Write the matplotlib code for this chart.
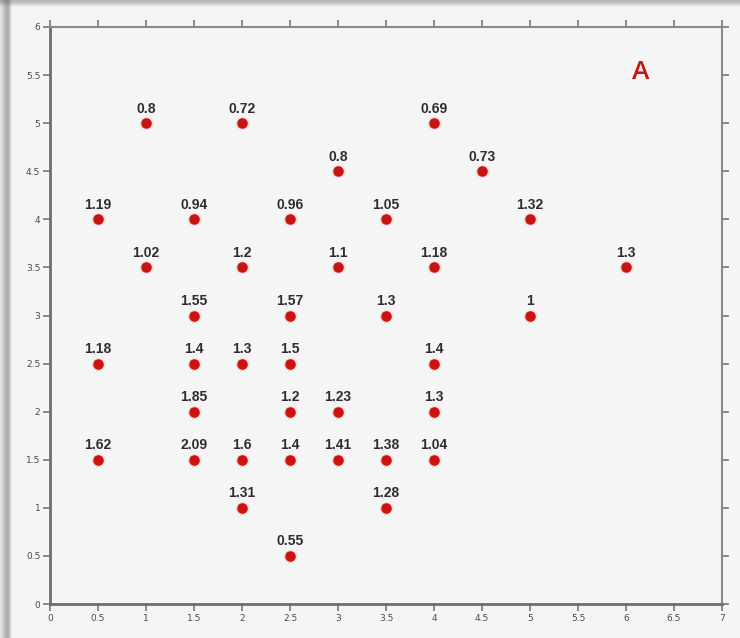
import matplotlib.pyplot as plt
from matplotlib.patches import Rectangle

# grid positions and measured values
xs = [1, 2, 4,
      3, 4.5,
      0.5, 1.5, 2.5, 3.5, 5,
      1, 2, 3, 4, 6,
      1.5, 2.5, 3.5, 5,
      0.5, 1.5, 2, 2.5, 4,
      1.5, 2.5, 3, 4,
      0.5, 1.5, 2, 2.5, 3, 3.5, 4,
      2, 3.5,
      2.5]
ys = [5, 5, 5,
      4.5, 4.5,
      4, 4, 4, 4, 4,
      3.5, 3.5, 3.5, 3.5, 3.5,
      3, 3, 3, 3,
      2.5, 2.5, 2.5, 2.5, 2.5,
      2, 2, 2, 2,
      1.5, 1.5, 1.5, 1.5, 1.5, 1.5, 1.5,
      1, 1,
      0.5]
values = [0.8, 0.72, 0.69,
          0.8, 0.73,
          1.19, 0.94, 0.96, 1.05, 1.32,
          1.02, 1.2, 1.1, 1.18, 1.3,
          1.55, 1.57, 1.3, 1,
          1.18, 1.4, 1.3, 1.5, 1.4,
          1.85, 1.2, 1.23, 1.3,
          1.62, 2.09, 1.6, 1.4, 1.41, 1.38, 1.04,
          1.31, 1.28,
          0.55]

xticks = [0, 0.5, 1, 1.5, 2, 2.5, 3, 3.5, 4, 4.5, 5, 5.5, 6, 6.5, 7]
yticks = [0, 0.5, 1, 1.5, 2, 2.5, 3, 3.5, 4, 4.5, 5, 5.5, 6]

bg = "#f5f5f5"
fig = plt.figure(figsize=(7.4, 6.38), dpi=100, facecolor=bg)

# soft frame shadow on the left and top edges
for i, a in enumerate([0.10, 0.16, 0.22, 0.28, 0.34, 0.40, 0.44, 0.46, 0.42, 0.30, 0.18, 0.08]):
    fig.patches.append(Rectangle((i / 740, 0), 1 / 740, 1, transform=fig.transFigure,
                                 color="#555555", alpha=a, lw=0))
for i, a in enumerate([0.40, 0.38, 0.32, 0.26, 0.18, 0.12, 0.06]):
    fig.patches.append(Rectangle((0, 1 - (i + 1) / 638), 1, 1 / 638, transform=fig.transFigure,
                                 color="#555555", alpha=a, lw=0))

ax = fig.add_axes([50 / 740, 34 / 638, 672 / 740, 577 / 638])
ax.set_facecolor(bg)

ax.scatter(xs, ys, s=95, color="#e04040", alpha=0.12, lw=0, zorder=2)
ax.scatter(xs, ys, s=58, color="#cc1212", lw=0, zorder=3)

for x, y, v in zip(xs, ys, values):
    ax.annotate(f"{v:g}", (x, y), xytext=(0, 5.5), textcoords="offset points",
                ha="center", va="bottom", fontsize=10, fontweight="bold",
                family="Liberation Sans", color="#2e2e2e")

ax.text(6.15, 5.53, "A", color="#c81414", fontsize=19, ha="center", va="center",
        family="Open Sans", fontweight="semibold")

ax.set_xlim(0, 7)
ax.set_ylim(0, 6)
ax.set_xticks(xticks)
ax.set_yticks(yticks)
ax.set_xticklabels([f"{t:g}" for t in xticks])
ax.set_yticklabels([f"{t:g}" for t in yticks])
ax.tick_params(axis="both", direction="out", length=5, width=1.2, color="#777777",
               labelsize=6.5, labelcolor="#4a4a4a", pad=2, top=True, right=True)

for side in ["left", "bottom"]:
    ax.spines[side].set_linewidth(2)
    ax.spines[side].set_color("#6e6e6e")
for side in ["top", "right"]:
    ax.spines[side].set_linewidth(1.5)
    ax.spines[side].set_color("#8a8a8a")

fig.savefig("out.png", dpi=100, facecolor=bg)
